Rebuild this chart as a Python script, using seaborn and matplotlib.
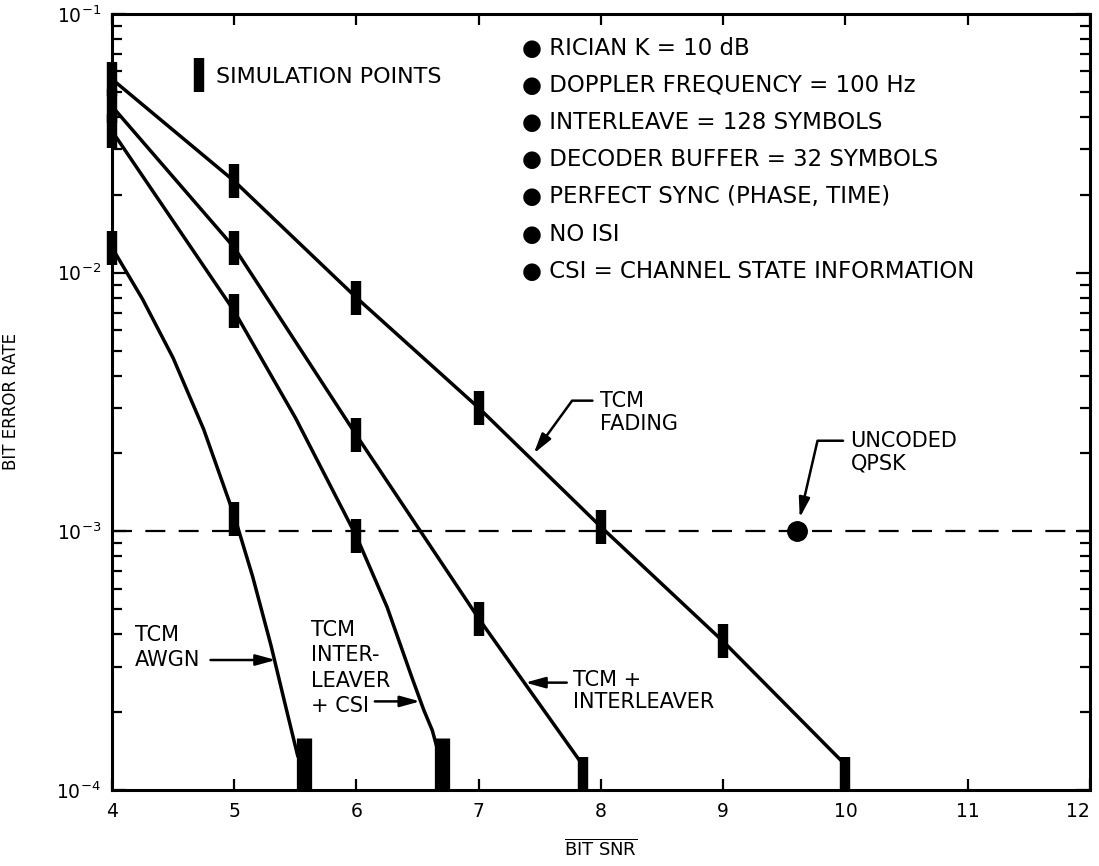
import numpy as np
import pandas as pd
import matplotlib
matplotlib.use('Agg')
import matplotlib.pyplot as plt
import seaborn as sns

# ---------------------------------------------------------------
# data (x = bit SNR in dB, y = bit error rate)
# ---------------------------------------------------------------
fading_x = [4, 5, 6, 7, 8, 9, 10]
fading_y = [0.056, 0.0226, 0.0080, 0.0030, 0.00104, 3.75e-4, 1.25e-4]

interl_x = [4, 5, 6, 7, 7.85]
interl_y = [0.044, 0.0125, 0.00235, 4.6e-4, 1.25e-4]

csi_x = [4, 5, 5.5, 6, 6.25, 6.45, 6.55, 6.62, 6.66]
csi_y = [0.0353, 0.0071, 0.00275, 9.55e-4, 5.1e-4, 2.75e-4, 2.04e-4, 1.7e-4, 1.45e-4]

awgn_x = [4, 4.25, 4.5, 4.75, 5, 5.15, 5.3, 5.42, 5.52]
awgn_y = [0.0125, 0.0079, 0.00468, 0.00248, 0.00115, 6.7e-4, 3.63e-4, 2.11e-4, 1.35e-4]

# simulation points (vertical bars)
sim_fading_x = [4, 5, 6, 7, 8, 9, 10]
sim_fading_y = [0.056, 0.0226, 0.0080, 0.0030, 0.00104, 3.75e-4, 1.15e-4]
sim_interl_x = [4, 5, 6, 7, 7.85]
sim_interl_y = [0.044, 0.0125, 0.00235, 4.6e-4, 1.15e-4]
sim_csi_x = [4, 5, 6]
sim_csi_y = [0.0353, 0.0071, 9.55e-4]
sim_awgn_x = [4, 5]
sim_awgn_y = [0.0125, 0.00112]
# the two wide bars at the bottom end of the steep curves
sim_end_x = [5.57, 6.70]
sim_end_y = [1.26e-4, 1.26e-4]

qpsk_ber = 1e-3
qpsk_snr = 9.6

x_ticks = [4, 5, 6, 7, 8, 9, 10, 11, 12]

conditions = [
    "RICIAN K = 10 dB",
    "DOPPLER FREQUENCY = 100 Hz",
    "INTERLEAVE = 128 SYMBOLS",
    "DECODER BUFFER = 32 SYMBOLS",
    "PERFECT SYNC (PHASE, TIME)",
    "NO ISI",
    "CSI = CHANNEL STATE INFORMATION",
]

# ---------------------------------------------------------------
# plot
# ---------------------------------------------------------------
sns.set_style("ticks")
plt.rcParams['font.family'] = ['DejaVu Sans']
plt.rcParams['text.color'] = 'black'
plt.rcParams['axes.labelcolor'] = 'black'

fig = plt.figure(figsize=(10.99, 8.66), dpi=100)
ax = fig.add_axes([0.1019, 0.0878, 0.8899, 0.896])

curves = pd.concat([
    pd.DataFrame({"snr": fading_x, "ber": fading_y, "curve": "fading"}),
    pd.DataFrame({"snr": interl_x, "ber": interl_y, "curve": "interleaver"}),
    pd.DataFrame({"snr": csi_x, "ber": csi_y, "curve": "csi"}),
    pd.DataFrame({"snr": awgn_x, "ber": awgn_y, "curve": "awgn"}),
])
sns.lineplot(data=curves, x="snr", y="ber", units="curve", estimator=None,
             sort=False, color="black", lw=2.5, ax=ax, legend=False)

bar_kw = dict(ls="none", marker="|", color="black", ms=25, mew=7.5, clip_on=False)
sim_handle, = ax.plot(sim_fading_x[:-1], sim_fading_y[:-1], label="SIMULATION POINTS", **bar_kw)
ax.plot(sim_interl_x[:-1], sim_interl_y[:-1], **bar_kw)
ax.plot(sim_csi_x, sim_csi_y, **bar_kw)
ax.plot(sim_awgn_x, sim_awgn_y, **bar_kw)
# bars at the bottom edge are cut by the axis
ax.plot([sim_fading_x[-1], sim_interl_x[-1]], [sim_fading_y[-1], sim_interl_y[-1]],
        ls="none", marker="|", color="black", ms=25, mew=7.5)
ax.plot(sim_end_x, sim_end_y, ls="none", marker="|", color="black", ms=38, mew=11)

ax.axhline(qpsk_ber, color="black", lw=1.6, ls=(0, (9, 6)))
ax.plot([qpsk_snr], [qpsk_ber], "o", color="black", ms=14)

ax.set_yscale("log")
ax.set_xlim(4, 12)
ax.set_ylim(1e-4, 1e-1)
ax.set_xticks(x_ticks)
ax.set_xticklabels([str(t) for t in x_ticks])
ax.get_xticklabels()[-1].set_horizontalalignment("right")

for s in ax.spines.values():
    s.set_visible(True)
    s.set_linewidth(2.2)
    s.set_color("black")

ax.tick_params(axis="both", which="both", direction="in", top=True, right=True,
               colors="black", labelsize=13.5, width=1.6)
ax.tick_params(axis="y", which="major", length=10, pad=8)
ax.tick_params(axis="y", which="minor", length=7)
ax.tick_params(axis="x", which="major", length=8, pad=9)
ax.tick_params(axis="x", which="minor", length=0)

ax.set_ylabel("BIT ERROR RATE", fontsize=12, labelpad=26)
ax.set_xlabel(r"$\overline{\mathrm{BIT\ SNR}}$", fontsize=13, labelpad=12)

# legend for the simulation bars
ax.legend(handles=[sim_handle], loc="upper left", bbox_to_anchor=(0.062, 0.958),
          frameon=False, fontsize=16, handlelength=0.6, handletextpad=0.45,
          numpoints=1)

# condition list top right
for i, txt in enumerate(conditions):
    ax.text(0.419, 0.955 - i * 0.0477, "\u25CF " + txt, transform=ax.transAxes,
            fontsize=16.5, va="center", ha="left")

# curve call-outs
lab_kw = dict(fontsize=15, ha="left", va="top")
ax.text(7.99, 3.5e-3, "TCM\nFADING", linespacing=1.2, **lab_kw)
ax.text(10.04, 2.45e-3, "UNCODED\nQPSK", linespacing=1.2, **lab_kw)
ax.text(7.77, 2.91e-4, "TCM +\nINTERLEAVER", linespacing=1.15, **lab_kw)
ax.text(5.624, 4.53e-4, "TCM\nINTER-\nLEAVER\n+ CSI", linespacing=1.32, **lab_kw)
ax.text(4.19, 4.34e-4, "TCM\nAWGN", linespacing=1.32, **lab_kw)

arrow = dict(arrowstyle="-|>,head_length=0.8,head_width=0.22", color="black",
             lw=1.8, shrinkA=0, shrinkB=0, mutation_scale=15)

ax.annotate("", xy=(7.45, 2.0e-3), xytext=(7.93, 3.2e-3),
            arrowprops=dict(arrow, connectionstyle="angle,angleA=0,angleB=54,rad=0"))
ax.annotate("", xy=(qpsk_snr, qpsk_ber), xytext=(9.98, 2.24e-3),
            arrowprops=dict(arrow, shrinkB=10,
                            connectionstyle="angle,angleA=0,angleB=77,rad=0"))
ax.annotate("", xy=(7.38, 2.6e-4), xytext=(7.72, 2.6e-4), arrowprops=arrow)
ax.annotate("", xy=(6.52, 2.2e-4), xytext=(6.15, 2.2e-4), arrowprops=arrow)
ax.annotate("", xy=(5.34, 3.18e-4), xytext=(4.806, 3.18e-4), arrowprops=arrow)

fig.savefig("out.png", dpi=100)
